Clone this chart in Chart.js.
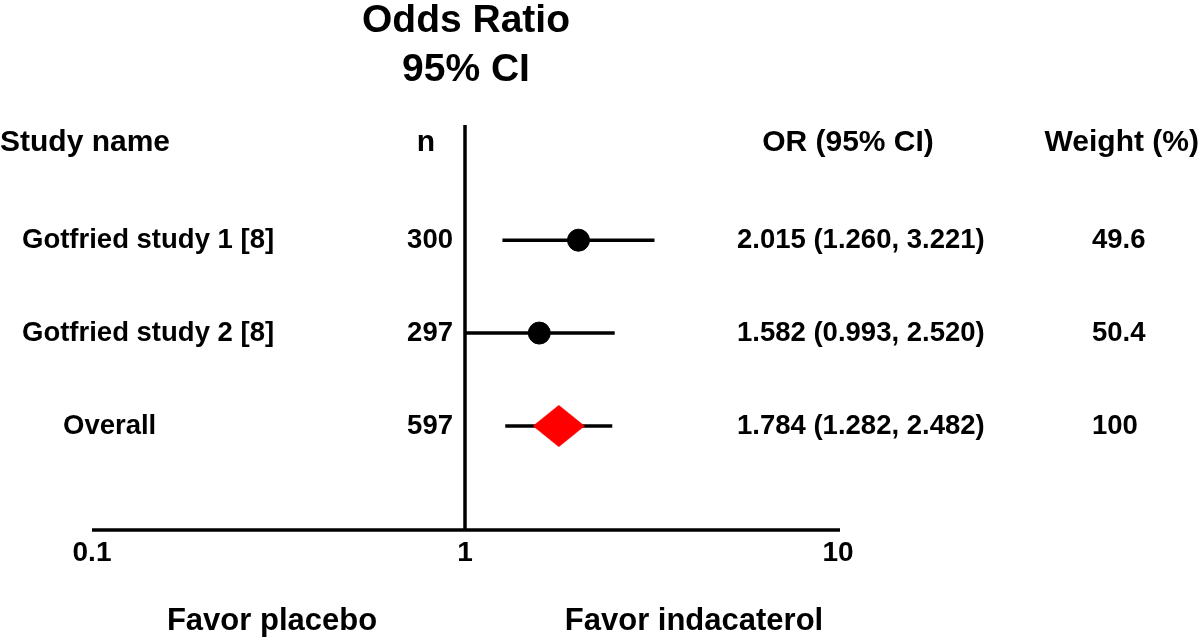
<!DOCTYPE html>
<html>
<head>
<meta charset="utf-8">
<script src="https://cdn.jsdelivr.net/npm/chart.js@4/dist/chart.umd.min.js"></script>
<style>
  html, body { margin: 0; padding: 0; background: #fff; }
  #wrap { width: 1200px; height: 638px; position: relative; }
</style>
</head>
<body>
<div id="wrap"><canvas id="chart" width="1200" height="638"></canvas></div>
<script>
'use strict';

// forest plot data
const studyNames = ['Gotfried study 1 [8]', 'Gotfried study 2 [8]', 'Overall'];
const sampleSizes = [300, 297, 597];
const oddsRatios = [2.015, 1.582, 1.784];
const ciLower = [1.260, 0.993, 1.282];
const ciUpper = [3.221, 2.520, 2.482];
const weights = ['49.6', '50.4', '100'];
const xTicks = [0.1, 1, 10];

const FONT = '"Liberation Sans", Arial, sans-serif';
const rows = studyNames.map((s, i) => i + 1);

// red diamond marker for the pooled estimate
function diamond(w, h, color) {
  const c = document.createElement('canvas');
  c.width = w; c.height = h;
  const g = c.getContext('2d');
  g.fillStyle = color;
  g.beginPath();
  g.moveTo(w / 2, 0);
  g.lineTo(w, h / 2);
  g.lineTo(w / 2, h);
  g.lineTo(0, h / 2);
  g.closePath();
  g.fill();
  return c;
}

const datasets = [];
for (let i = 0; i < studyNames.length; i++) {
  datasets.push({
    type: 'line',
    order: 2,
    data: [{x: ciLower[i], y: rows[i]}, {x: ciUpper[i], y: rows[i]}],
    borderColor: '#000',
    borderWidth: 3.5,
    pointRadius: 0,
    fill: false
  });
}
datasets.push({
  type: 'scatter',
  order: 1,
  data: oddsRatios.slice(0, 2).map((v, i) => ({x: v, y: rows[i]})),
  backgroundColor: '#000',
  borderColor: '#000',
  pointRadius: 11
});
datasets.push({
  type: 'scatter',
  order: 0,
  data: [{x: oddsRatios[2], y: rows[2]}],
  pointStyle: diamond(52, 42, '#ff0000'),
  pointRadius: 21
});

const forestText = {
  id: 'forestText',
  beforeDatasetsDraw(chart) {
    const ctx = chart.ctx;
    const xs = chart.scales.x;
    const a = chart.chartArea;
    ctx.save();
    ctx.strokeStyle = '#000';
    ctx.lineWidth = 3.5;
    ctx.beginPath();
    ctx.moveTo(a.left, a.bottom);
    ctx.lineTo(a.right + 2, a.bottom);
    ctx.stroke();
    const x1 = xs.getPixelForValue(1);
    ctx.beginPath();
    ctx.moveTo(x1, a.top);
    ctx.lineTo(x1, a.bottom);
    ctx.stroke();
    ctx.restore();
  },
  afterDraw(chart) {
    const ctx = chart.ctx;
    const xs = chart.scales.x;
    const ys = chart.scales.y;
    const a = chart.chartArea;
    ctx.save();
    ctx.fillStyle = '#000';
    ctx.textBaseline = 'middle';

    // title
    ctx.font = 'bold 39px ' + FONT;
    ctx.textAlign = 'center';
    ctx.fillText('Odds Ratio', 466, 21);
    ctx.fillText('95% CI', 466, 70);

    // column headers
    ctx.font = 'bold 30px ' + FONT;
    ctx.textAlign = 'left';
    ctx.fillText('Study name', 0, 143);
    ctx.textAlign = 'center';
    ctx.fillText('n', 426, 143);
    ctx.fillText('OR (95% CI)', 848, 143);
    ctx.textAlign = 'right';
    ctx.fillText('Weight (%)', 1199, 143);

    // rows
    ctx.font = 'bold 27.5px ' + FONT;
    for (let i = 0; i < studyNames.length; i++) {
      const y = ys.getPixelForValue(rows[i]);
      ctx.textAlign = 'left';
      ctx.fillText(studyNames[i], i === 2 ? 63 : 22, y);
      ctx.textAlign = 'right';
      ctx.fillText(String(sampleSizes[i]), 453, y);
      ctx.textAlign = 'left';
      const txt = oddsRatios[i].toFixed(3) + ' (' + ciLower[i].toFixed(3) + ', ' + ciUpper[i].toFixed(3) + ')';
      ctx.fillText(txt, 737, y);
      ctx.fillText(weights[i], 1092, y);
    }

    // tick labels
    ctx.font = 'bold 28px ' + FONT;
    ctx.textAlign = 'center';
    for (const t of xTicks) {
      ctx.fillText(String(t), xs.getPixelForValue(t), a.bottom + 23);
    }

    // direction labels
    ctx.font = 'bold 31px ' + FONT;
    ctx.fillText('Favor placebo', 272, 621);
    ctx.fillText('Favor indacaterol', 694, 621);
    ctx.restore();
  }
};

new Chart(document.getElementById('chart'), {
  type: 'scatter',
  data: { datasets: datasets },
  options: {
    responsive: false,
    animation: false,
    layout: { padding: { left: 92, right: 362, top: 125, bottom: 108 } },
    plugins: { legend: { display: false }, tooltip: { enabled: false } },
    scales: {
      x: { type: 'logarithmic', min: 0.1, max: 10, display: false },
      y: { type: 'linear', min: -0.24, max: 4.12, reverse: true, display: false }
    }
  },
  plugins: [forestText]
});
</script>
</body>
</html>
